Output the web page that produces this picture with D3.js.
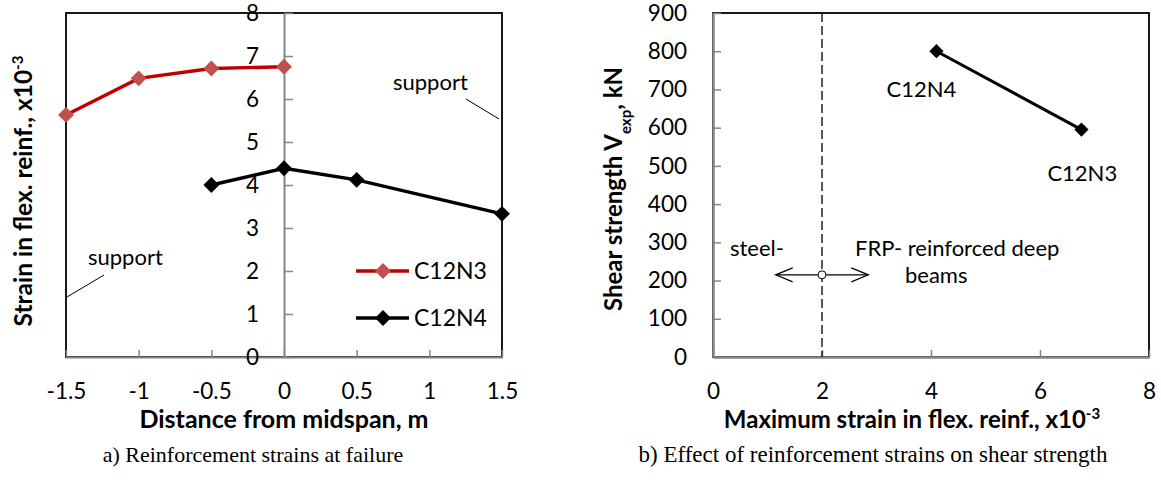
<!DOCTYPE html>
<html>
<head>
<meta charset="utf-8">
<script src="https://cdn.jsdelivr.net/npm/d3@7"></script>
<style>
  body { margin: 0; background: #ffffff; }
  svg { font-family: Lato, "Open Sans", sans-serif; }
</style>
</head>
<body>
<div id="viz"></div>
<script>

// ---- data ----

// a) strains along the span
const distC12N3 = [-1.5, -1, -0.5, 0]
const strainC12N3 = [5.63, 6.48, 6.71, 6.75]
const distC12N4 = [-0.5, 0, 0.5, 1.5]
const strainC12N4 = [4.0, 4.39, 4.12, 3.33]
const seriesNames = ["C12N3", "C12N4"]
const ticksA_x = [-1.5, -1, -0.5, 0, 0.5, 1, 1.5]
const ticksA_y = [0, 1, 2, 3, 4, 5, 6, 7, 8]

// b) max strain vs shear strength
const beamNames = ["C12N4", "C12N3"]
const maxStrain = [4.1, 6.76]
const shearStrength = [800, 595]
const ticksB_x = [0, 2, 4, 6, 8]
const ticksB_y = [0, 100, 200, 300, 400, 500, 600, 700, 800, 900]
const dividerStrain = 2
const arrowSpan = [1.15, 2.85]
const arrowLevel = 215

document.addEventListener("DOMContentLoaded", () => {

  const width = 1161
  const height = 492

  const svg = d3.select("#viz").append("svg")
    .attr("width", width)
    .attr("height", height)
    .style("background-color", "#ffffff")

  const axisGray = "#868686"
  const diamond = d3.symbol().type(d3.symbolDiamond2)
  const serif = "'Liberation Serif', 'Times New Roman', serif"

  // ==================== chart a ====================

  const xA = d3.scaleLinear().domain([-1.5, 1.5]).range([66, 502])
  const yA = d3.scaleLinear().domain([0, 8]).range([357, 13])

  svg.append("rect")
    .attr("x", xA(-1.5)).attr("y", yA(8))
    .attr("width", xA(1.5) - xA(-1.5)).attr("height", yA(0) - yA(8))
    .attr("fill", "none").attr("stroke", "#000").attr("stroke-width", 1.8)

  const axA_x = svg.append("g")
    .attr("transform", `translate(0,${yA(0)})`)
    .call(d3.axisBottom(xA).tickValues(ticksA_x).tickSizeInner(-7).tickSizeOuter(0).tickPadding(26)
      .tickFormat(d => d3.format("")(d).replace("−", "-")))

  const axA_y = svg.append("g")
    .attr("transform", `translate(${xA(0)},0)`)
    .call(d3.axisLeft(yA).tickValues(ticksA_y).tickSizeInner(-9).tickSizeOuter(0).tickPadding(25))

  ;[axA_x, axA_y].forEach(g => {
    g.select(".domain").attr("stroke", axisGray).attr("stroke-width", 2)
    g.selectAll(".tick line").attr("stroke", axisGray).attr("stroke-width", 1.5)
    g.selectAll(".tick text").attr("font-size", 22.5).attr("font-family", "Lato").attr("fill", "#000")
  })

  const lineA = d3.line().x(d => xA(d[0])).y(d => yA(d[1]))

  const ptsN3 = distC12N3.map((d, i) => [d, strainC12N3[i]])
  const ptsN4 = distC12N4.map((d, i) => [d, strainC12N4[i]])

  svg.append("path").attr("d", lineA(ptsN3))
    .attr("fill", "none").attr("stroke", "#c00000").attr("stroke-width", 3.4)
  svg.selectAll(".mN3").data(ptsN3).enter().append("path")
    .attr("transform", d => `translate(${xA(d[0])},${yA(d[1])})`)
    .attr("d", diamond.size(160)).attr("fill", "#c0504d")

  svg.append("path").attr("d", lineA(ptsN4))
    .attr("fill", "none").attr("stroke", "#000").attr("stroke-width", 3.4)
  svg.selectAll(".mN4").data(ptsN4).enter().append("path")
    .attr("transform", d => `translate(${xA(d[0])},${yA(d[1])})`)
    .attr("d", diamond.size(160)).attr("fill", "#000")

  // support notes
  svg.append("text").attr("x", 393).attr("y", 90).attr("font-size", 22).text("support")
  svg.append("line").attr("x1", 466).attr("y1", 99).attr("x2", 499).attr("y2", 119)
    .attr("stroke", "#000").attr("stroke-width", 1)
  svg.append("text").attr("x", 88).attr("y", 265).attr("font-size", 22).text("support")
  svg.append("line").attr("x1", 104).attr("y1", 275).attr("x2", 67).attr("y2", 297)
    .attr("stroke", "#000").attr("stroke-width", 1)

  // legend
  const legend = svg.append("g")
  const legendColors = [["#c00000", "#c0504d"], ["#000", "#000"]]
  seriesNames.forEach((name, i) => {
    const ly = 271 + i * 47
    legend.append("line").attr("x1", 356).attr("x2", 409).attr("y1", ly).attr("y2", ly)
      .attr("stroke", legendColors[i][0]).attr("stroke-width", 3.4)
    legend.append("path").attr("transform", `translate(383,${ly})`)
      .attr("d", diamond.size(160)).attr("fill", legendColors[i][1])
    legend.append("text").attr("x", 414).attr("y", ly + 8).attr("font-size", 23).text(name)
  })

  // titles
  svg.append("text")
    .attr("x", 284).attr("y", 428).attr("text-anchor", "middle")
    .attr("font-size", 25).attr("font-weight", 700)
    .text("Distance from midspan, m")

  const ytA = svg.append("text")
    .attr("transform", "translate(32,191) rotate(-90)")
    .attr("text-anchor", "middle").attr("font-size", 24.5).attr("font-weight", 700)
  ytA.append("tspan").text("Strain in flex. reinf., x10")
  ytA.append("tspan").attr("baseline-shift", "super").attr("font-size", 15).text("-3")

  svg.append("text")
    .attr("x", 253).attr("y", 462).attr("text-anchor", "middle")
    .style("font-family", serif).attr("font-size", 22)
    .text("a) Reinforcement strains at failure")

  // ==================== chart b ====================

  const xB = d3.scaleLinear().domain([0, 8]).range([713, 1149])
  const yB = d3.scaleLinear().domain([0, 900]).range([357, 13])

  svg.append("rect")
    .attr("x", xB(0)).attr("y", yB(900))
    .attr("width", xB(8) - xB(0)).attr("height", yB(0) - yB(900))
    .attr("fill", "none").attr("stroke", "#000").attr("stroke-width", 1.8)

  const axB_x = svg.append("g")
    .attr("transform", `translate(0,${yB(0)})`)
    .call(d3.axisBottom(xB).tickValues(ticksB_x).tickSizeInner(-7).tickSizeOuter(0).tickPadding(26))

  const axB_y = svg.append("g")
    .attr("transform", `translate(${xB(0)},0)`)
    .call(d3.axisLeft(yB).tickValues(ticksB_y).tickSizeInner(-8).tickSizeOuter(0).tickPadding(26))

  ;[axB_x, axB_y].forEach(g => {
    g.select(".domain").attr("stroke", axisGray).attr("stroke-width", 2.5)
    g.selectAll(".tick line").attr("stroke", axisGray).attr("stroke-width", 1.5)
    g.selectAll(".tick text").attr("font-size", 22.5).attr("font-family", "Lato").attr("fill", "#000")
  })

  // steel / FRP divider
  svg.append("line")
    .attr("x1", xB(dividerStrain)).attr("x2", xB(dividerStrain))
    .attr("y1", yB(900)).attr("y2", yB(0))
    .attr("stroke", "#000").attr("stroke-width", 1.3).attr("stroke-dasharray", "9,4")

  const ay = yB(arrowLevel)
  svg.append("line")
    .attr("x1", xB(arrowSpan[0])).attr("x2", xB(arrowSpan[1]))
    .attr("y1", ay).attr("y2", ay).attr("stroke", "#000").attr("stroke-width", 1.2)
  svg.append("path")
    .attr("d", `M${xB(arrowSpan[0]) + 17},${ay - 7} L${xB(arrowSpan[0])},${ay} L${xB(arrowSpan[0]) + 17},${ay + 7}`)
    .attr("fill", "none").attr("stroke", "#000").attr("stroke-width", 1.2)
  svg.append("path")
    .attr("d", `M${xB(arrowSpan[1]) - 17},${ay - 7} L${xB(arrowSpan[1])},${ay} L${xB(arrowSpan[1]) - 17},${ay + 7}`)
    .attr("fill", "none").attr("stroke", "#000").attr("stroke-width", 1.2)
  svg.append("circle")
    .attr("cx", xB(dividerStrain)).attr("cy", ay).attr("r", 4)
    .attr("fill", "#fff").attr("stroke", "#000").attr("stroke-width", 1)

  svg.append("text").attr("x", 730).attr("y", 256).attr("font-size", 22).text("steel-")
  svg.append("text").attr("x", 855).attr("y", 256).attr("font-size", 22).text("FRP- reinforced deep")
  svg.append("text").attr("x", 905).attr("y", 283).attr("font-size", 22).text("beams")

  const ptsB = maxStrain.map((d, i) => [d, shearStrength[i]])
  svg.append("path")
    .attr("d", d3.line().x(d => xB(d[0])).y(d => yB(d[1]))(ptsB))
    .attr("fill", "none").attr("stroke", "#000").attr("stroke-width", 3)
  svg.selectAll(".mB").data(ptsB).enter().append("path")
    .attr("transform", d => `translate(${xB(d[0])},${yB(d[1])})`)
    .attr("d", diamond.size(130)).attr("fill", "#000")

  // point labels sit below-left / below of each marker
  const labelOffsets = [[-50, 46], [-34, 51]]
  svg.selectAll(".lblB").data(ptsB).enter().append("text")
    .attr("x", (d, i) => xB(d[0]) + labelOffsets[i][0])
    .attr("y", (d, i) => yB(d[1]) + labelOffsets[i][1])
    .attr("font-size", 22)
    .text((d, i) => beamNames[i])

  const xtB = svg.append("text")
    .attr("x", 912).attr("y", 428).attr("text-anchor", "middle")
    .attr("font-size", 24).attr("font-weight", 700)
  xtB.append("tspan").text("Maximum strain in flex. reinf., x10")
  xtB.append("tspan").attr("baseline-shift", "super").attr("font-size", 15).text("-3")

  const ytB = svg.append("text")
    .attr("transform", "translate(622,189) rotate(-90)")
    .attr("text-anchor", "middle").attr("font-size", 24).attr("font-weight", 700)
  ytB.append("tspan").text("Shear strength V")
  ytB.append("tspan").attr("baseline-shift", "sub").attr("font-size", 15).text("exp")
  ytB.append("tspan").attr("baseline-shift", "0").text(", kN")

  svg.append("text")
    .attr("x", 873).attr("y", 462).attr("text-anchor", "middle")
    .style("font-family", serif).attr("font-size", 23)
    .text("b) Effect of reinforcement strains on shear strength")

})
</script>
</body>
</html>
